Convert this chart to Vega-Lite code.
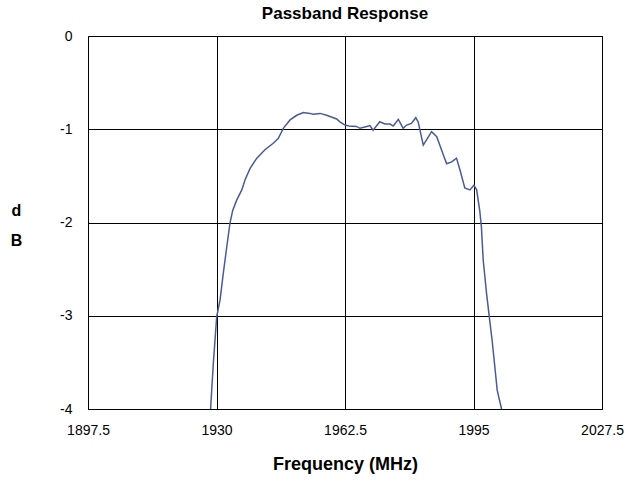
{
  "$schema": "https://vega.github.io/schema/vega-lite/v6.json",
  "autosize": {"type": "none"},
  "width": 514,
  "height": 373,
  "padding": {"left": 88, "top": 36, "right": 32, "bottom": 73},
  "background": "white",
  "title": {"text": "Passband Response", "font": "Liberation Sans", "fontSize": 17, "fontWeight": "bold", "color": "#000", "anchor": "middle", "offset": 6},
  "config": {
    "view": {"stroke": "#000", "strokeWidth": 1},
    "axis": {"labelFont": "Liberation Sans", "labelFontSize": 14, "labelColor": "#000", "titleFont": "Liberation Sans", "titleFontWeight": "bold", "titleColor": "#000", "grid": true, "gridColor": "#000", "gridOpacity": 1, "gridWidth": 1, "ticks": false, "domain": false}
  },
  "data": {"values": [
    {"f": 1928.5, "db": -4.0},
    {"f": 1929.2, "db": -3.51},
    {"f": 1930.05, "db": -3.01},
    {"f": 1930.9, "db": -2.83},
    {"f": 1931.7, "db": -2.55},
    {"f": 1932.6, "db": -2.26},
    {"f": 1933.4, "db": -2.01},
    {"f": 1934.1, "db": -1.87},
    {"f": 1935.1, "db": -1.76},
    {"f": 1936.4, "db": -1.65},
    {"f": 1937.2, "db": -1.545},
    {"f": 1938.5, "db": -1.42},
    {"f": 1940.2, "db": -1.31},
    {"f": 1942.25, "db": -1.22},
    {"f": 1944.35, "db": -1.15},
    {"f": 1945.6, "db": -1.10},
    {"f": 1946.9, "db": -0.99},
    {"f": 1948.6, "db": -0.90},
    {"f": 1950.3, "db": -0.85},
    {"f": 1951.95, "db": -0.82},
    {"f": 1953.6, "db": -0.83},
    {"f": 1954.5, "db": -0.84},
    {"f": 1956.2, "db": -0.83},
    {"f": 1957.85, "db": -0.85},
    {"f": 1960.4, "db": -0.89},
    {"f": 1961.2, "db": -0.92},
    {"f": 1962.5, "db": -0.955},
    {"f": 1963.5, "db": -0.966},
    {"f": 1965.4, "db": -0.97},
    {"f": 1966.3, "db": -0.99},
    {"f": 1968.0, "db": -0.97},
    {"f": 1968.8, "db": -0.96},
    {"f": 1969.6, "db": -1.01},
    {"f": 1971.3, "db": -0.92},
    {"f": 1972.6, "db": -0.944},
    {"f": 1973.9, "db": -0.944},
    {"f": 1974.7, "db": -0.966},
    {"f": 1976.0, "db": -0.894},
    {"f": 1977.2, "db": -0.99},
    {"f": 1978.1, "db": -0.955},
    {"f": 1979.3, "db": -0.937},
    {"f": 1980.4, "db": -0.876},
    {"f": 1981.0, "db": -0.92},
    {"f": 1982.3, "db": -1.17},
    {"f": 1983.3, "db": -1.10},
    {"f": 1984.4, "db": -1.026},
    {"f": 1985.7, "db": -1.08},
    {"f": 1986.9, "db": -1.22},
    {"f": 1988.2, "db": -1.37},
    {"f": 1989.5, "db": -1.35},
    {"f": 1990.7, "db": -1.31},
    {"f": 1991.6, "db": -1.44},
    {"f": 1992.8, "db": -1.63},
    {"f": 1994.1, "db": -1.65},
    {"f": 1995.1, "db": -1.60},
    {"f": 1995.8, "db": -1.65},
    {"f": 1996.6, "db": -1.88},
    {"f": 1997.0, "db": -2.05},
    {"f": 1997.45, "db": -2.40},
    {"f": 1998.3, "db": -2.76},
    {"f": 1999.1, "db": -3.05},
    {"f": 1999.7, "db": -3.26},
    {"f": 2000.4, "db": -3.55},
    {"f": 2001.0, "db": -3.80},
    {"f": 2002.1, "db": -4.0}
  ]},
  "mark": {"type": "line", "color": "#4a5b96", "strokeWidth": 1.5, "clip": true},
  "encoding": {
    "x": {"field": "f", "type": "quantitative", "scale": {"domain": [1897.5, 2027.5], "nice": false, "zero": false},
      "axis": {"values": [1897.5, 1930, 1962.5, 1995, 2027.5], "labelExpr": "'' + datum.value", "labelPadding": 14, "labelFlush": false, "title": "Frequency (MHz)", "titleFontSize": 18, "titlePadding": 18}},
    "y": {"field": "db", "type": "quantitative", "scale": {"domain": [-4, 0], "nice": false, "zero": false},
      "axis": {"values": [-4, -3, -2, -1, 0], "labelExpr": "'' + datum.value", "labelPadding": 16, "labelFlush": false, "title": ["d", "B"], "titleAngle": 0, "titleFontSize": 16, "titleLineHeight": 30, "titleAlign": "center", "titleBaseline": "middle", "titleX": -72, "titleY": 174}}
  }
}
